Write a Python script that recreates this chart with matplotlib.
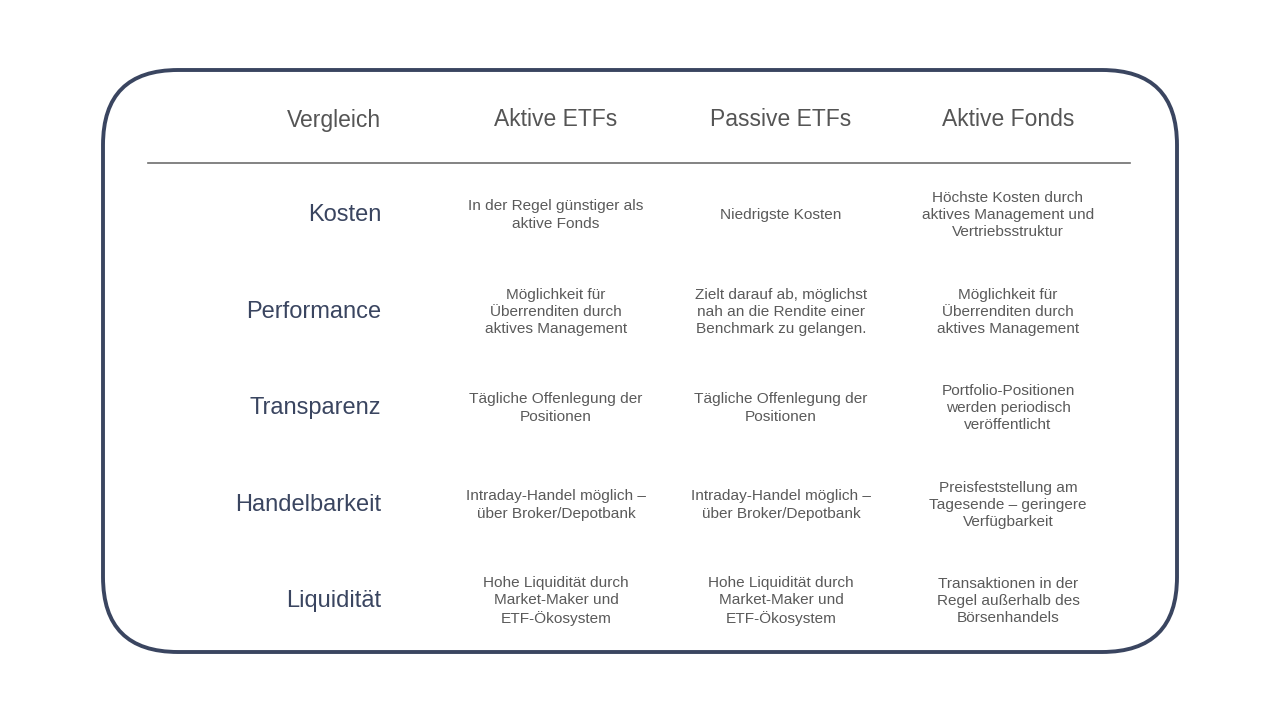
import matplotlib.pyplot as plt
from matplotlib.patches import FancyBboxPatch

header = ["Vergleich", "Aktive ETFs", "Passive ETFs", "Aktive Fonds"]
rows = ["Kosten", "Performance", "Transparenz", "Handelbarkeit", "Liquidität"]
aktive_etfs = [
    "In der Regel günstiger als\naktive Fonds",
    "Möglichkeit für\nÜberrenditen durch\naktives Management",
    "Tägliche Offenlegung der\nPositionen",
    "Intraday-Handel möglich –\nüber Broker/Depotbank",
    "Hohe Liquidität durch\nMarket-Maker und\nETF-Ökosystem",
]
passive_etfs = [
    "Niedrigste Kosten",
    "Zielt darauf ab, möglichst\nnah an die Rendite einer\nBenchmark zu gelangen.",
    "Tägliche Offenlegung der\nPositionen",
    "Intraday-Handel möglich –\nüber Broker/Depotbank",
    "Hohe Liquidität durch\nMarket-Maker und\nETF-Ökosystem",
]
aktive_fonds = [
    "Höchste Kosten durch\naktives Management und\nVertriebsstruktur",
    "Möglichkeit für\nÜberrenditen durch\naktives Management",
    "Portfolio-Positionen\nwerden periodisch\nveröffentlicht",
    "Preisfeststellung am\nTagesende – geringere\nVerfügbarkeit",
    "Transaktionen in der\nRegel außerhalb des\nBörsenhandels",
]

plt.rcParams["font.family"] = ["Liberation Sans", "DejaVu Sans"]
fig = plt.figure(figsize=(12.8, 7.2), dpi=100)
ax = fig.add_axes([0, 0, 1, 1])
ax.set_xlim(0, 1280)
ax.set_ylim(720, 0)
ax.axis("off")

box = FancyBboxPatch((103, 70), 1074, 582, boxstyle="round,pad=0,rounding_size=75",
                     fill=False, edgecolor="#3a4560", linewidth=2.8)
ax.add_patch(box)
ax.plot([148, 1130], [163, 163], color="#6e6e6e", linewidth=1.2)

col_x = [381, 556, 781, 1008]
ax.text(col_x[0], 120, header[0], ha="right", va="center", fontsize=16.5, color="#555555")
for x, h in zip(col_x[1:], header[1:]):
    ax.text(x, 120, h, ha="center", va="center", fontsize=16.5, color="#555555")

row_y = [215, 312, 408, 505, 601]
for i, y in enumerate(row_y):
    ax.text(col_x[0], y, rows[i], ha="right", va="center", fontsize=17, color="#3a4560")
    for x, col in zip(col_x[1:], [aktive_etfs, passive_etfs, aktive_fonds]):
        ax.text(x, y, col[i], ha="center", va="center", fontsize=11.1,
                color="#5a5a5a", linespacing=1.3)

fig.savefig("out.png")
